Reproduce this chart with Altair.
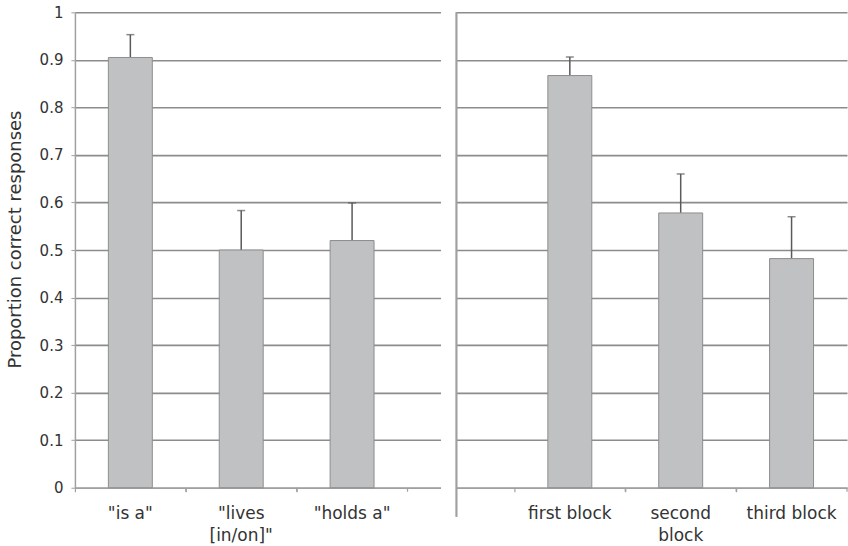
import altair as alt
import pandas as pd

# Relation-type conditions (left) and training blocks (right)
left_labels = ['"is a"', '"lives\n[in/on]"', '"holds a"']
left_means = [0.905, 0.500, 0.520]
left_errors = [0.048, 0.083, 0.079]

right_labels = ["first block", "second\nblock", "third block"]
right_means = [0.867, 0.578, 0.482]
right_errors = [0.039, 0.082, 0.088]

y_ticks = [0, 0.1, 0.2, 0.3, 0.4, 0.5, 0.6, 0.7, 0.8, 0.9, 1.0]

FONT = "DejaVu Sans"
TEXT = "#333333"
GRID = "#8c8c8c"
LINE = "#a0a0a0"
BAR_FILL = "#c0c1c3"
BAR_STROKE = "#8e8e8e"
ERR = "#5a5a5a"

PLOT_H = 476
STEP = 111


def panel(labels, means, errors, width, align, left_axis):
    df = pd.DataFrame({
        "condition": labels,
        "mean": means,
        "upper": [m + e for m, e in zip(means, errors)],
    })
    outer = (width / STEP - len(labels)) / 2
    xscale = alt.Scale(domain=labels, paddingInner=0, paddingOuter=outer, align=align)
    xaxis = alt.Axis(
        title=None, labelAngle=0, labelExpr="split(datum.label, '\\n')",
        labelFont=FONT, labelFontSize=17, labelColor=TEXT, labelLineHeight=22,
        labelPadding=14, tickSize=4, bandPosition=0, grid=False,
        domainColor=LINE, tickColor=LINE, domainWidth=1.5, tickWidth=1.2,
    )
    yscale = alt.Scale(domain=[0, 1], nice=False)
    if left_axis:
        yaxis = alt.Axis(
            values=y_ticks, format=".1~f", title="Proportion correct responses",
            labelFont=FONT, labelFontSize=15, labelColor=TEXT, labelPadding=8,
            tickSize=4, tickColor=LINE, domainColor=LINE, domainWidth=1.5,
            titleFont=FONT, titleFontSize=18, titleFontWeight="normal",
            titleColor=TEXT, titlePadding=15, titleY=227,
            grid=True, gridColor=GRID, gridWidth=1.6,
        )
    else:
        yaxis = alt.Axis(
            values=y_ticks, title=None, labels=False, ticks=False, domain=False,
            grid=True, gridColor=GRID, gridWidth=1.6,
        )

    x = alt.X("condition:N", scale=xscale, axis=xaxis)
    base = alt.Chart(df)

    bars = base.mark_bar(size=44, fill=BAR_FILL, stroke=BAR_STROKE, strokeWidth=1).encode(
        x=x, y=alt.Y("mean:Q", scale=yscale, axis=yaxis)
    )
    stems = base.mark_rule(color=ERR, strokeWidth=1.5).encode(
        x=x, y=alt.Y("mean:Q", scale=yscale, axis=yaxis), y2="upper:Q"
    )
    caps = base.mark_tick(color=ERR, size=8, thickness=1.5, orient="horizontal").encode(
        x=x, y=alt.Y("upper:Q", scale=yscale, axis=yaxis)
    )
    # category boundary ticks on the right side of each band
    edge_ticks = base.mark_rule(color=LINE, strokeWidth=1.2).encode(
        x=alt.X("condition:N", scale=xscale, axis=xaxis, bandPosition=1),
        y=alt.value(PLOT_H), y2=alt.value(PLOT_H + 4),
    )
    layers = [stems, caps, bars, edge_ticks]
    if not left_axis:
        separator = base.mark_rule(color=LINE, strokeWidth=1.5).encode(
            x=alt.value(0), y=alt.value(0), y2=alt.value(PLOT_H + 29)
        )
        layers.append(separator)
    return alt.layer(*layers).properties(width=width, height=PLOT_H)


left = panel(left_labels, left_means, left_errors, 366, 0, True)
right = panel(right_labels, right_means, right_errors, 391, 1, False)

chart = (
    alt.hconcat(left, right, spacing=15)
    .properties(padding={"left": 6, "top": 5, "right": 0, "bottom": 0})
    .configure_view(stroke=None)
)

chart.save("out.html", embed_options={"renderer": "svg", "actions": False})
